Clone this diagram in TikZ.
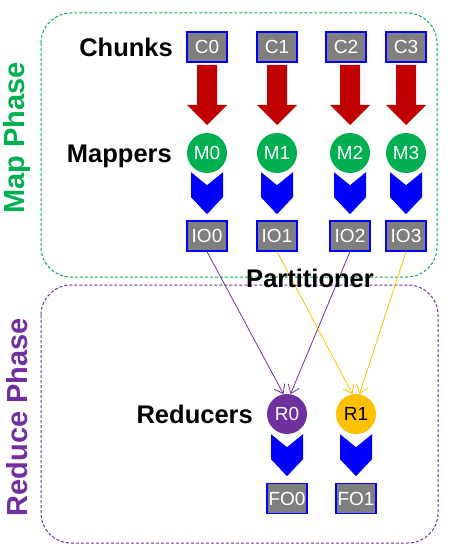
\documentclass[tikz,border=0pt]{standalone}
\usepackage{fontspec}
\setmainfont{Liberation Sans}
\usetikzlibrary{arrows.meta,calc}
\definecolor{mapgreen}{HTML}{00B050}
\definecolor{redpurple}{HTML}{7030A0}
\definecolor{redgold}{HTML}{FFC000}
\definecolor{chunkred}{HTML}{C00000}
\definecolor{boxgray}{HTML}{7F7F7F}

\tikzset{
  databox/.style={draw=blue,fill=boxgray,line width=1.2pt,minimum width=40pt,minimum height=30pt,inner sep=0pt,text=white,font=\fontsize{19}{19}\selectfont},
  worker/.style={circle,minimum size=40pt,inner sep=0pt,font=\fontsize{19}{19}\selectfont},
  rowlabel/.style={font=\fontsize{25.5}{26}\selectfont\bfseries,anchor=base east,inner sep=0pt},
  phaselabel/.style={font=\fontsize{29}{30}\selectfont\bfseries,rotate=90,inner sep=0pt},
  phasebox/.style={dash pattern=on 3pt off 2pt,line width=1pt,rounded corners=30pt},
  shuffle/.style={line width=0.8pt,-{Straight Barb[length=8pt,width=12pt]}}
}

\begin{document}
\begin{tikzpicture}[x=1pt,y=-1pt]
\useasboundingbox (0,0) rectangle (451,556);

% phases
\draw[phasebox,mapgreen] (41,13) rectangle (437,277);
\draw[phasebox,redpurple] (41,285) rectangle (438,543);
\node[phaselabel,mapgreen] (mapphase) at (17,138) {Map Phase};
\node[phaselabel,redpurple] (reducephase) at (17,417) {Reduce Phase};

% row labels
\node[rowlabel] (chunks) at (173,57) {Chunks};
\node[rowlabel] (mappers) at (172,162) {Mappers};
\node[rowlabel] (reducers) at (253,423) {Reducers};

% map side
\foreach \i/\cx/\x in {0/207/207, 1/277/277, 2/346/350, 3/406/406}
	{
	\node[databox] (C\i) at (\cx,47) {C\i};
	\node[worker,fill=mapgreen,text=white] (M\i) at (\x,153) {M\i};
	\node[databox] (IO\i) at (\x,236) {IO\i};
	\begin{scope}[shift={(\x,62)}]
		\fill[chunkred] (-10,3) -- (10,3) -- (10,43) -- (20,43) -- (0,63)
			-- (-20,43) -- (-10,43) -- cycle;
	\end{scope}
	\begin{scope}[shift={(M\i.south)}]
		\fill[blue] (-16,-1) -- (0,12) -- (16,-1) -- (16,24) -- (0,41)
			-- (-16,24) -- cycle;
	\end{scope}
	}

% reduce side
\node[worker,fill=redpurple,text=white] (R0) at (287,414) {R0};
\node[worker,fill=redgold,text=black] (R1) at (356,414) {R1};
\foreach \i in {0, 1}
	{
	\node[databox] (FO\i) at ($(R\i)+(0,84.5)$) {FO\i};
	\begin{scope}[shift={(R\i.south)}]
		\fill[blue] (-16,0) -- (0,13) -- (16,0) -- (16,25) -- (0,42)
			-- (-16,25) -- cycle;
	\end{scope}
	}

% partitioner
\draw[shuffle,redpurple] (IO0.south) -- (R0.100);
\draw[shuffle,redpurple] (IO2.south) -- (R0.80);
\draw[shuffle,redgold] (IO1.south) -- (R1.100);
\draw[shuffle,redgold] (IO3.south) -- (R1.80);
\node[font=\fontsize{25.5}{26}\selectfont\bfseries,anchor=base,inner sep=0pt] (partitioner) at (310,287) {Partitioner};
\end{tikzpicture}
\end{document}
